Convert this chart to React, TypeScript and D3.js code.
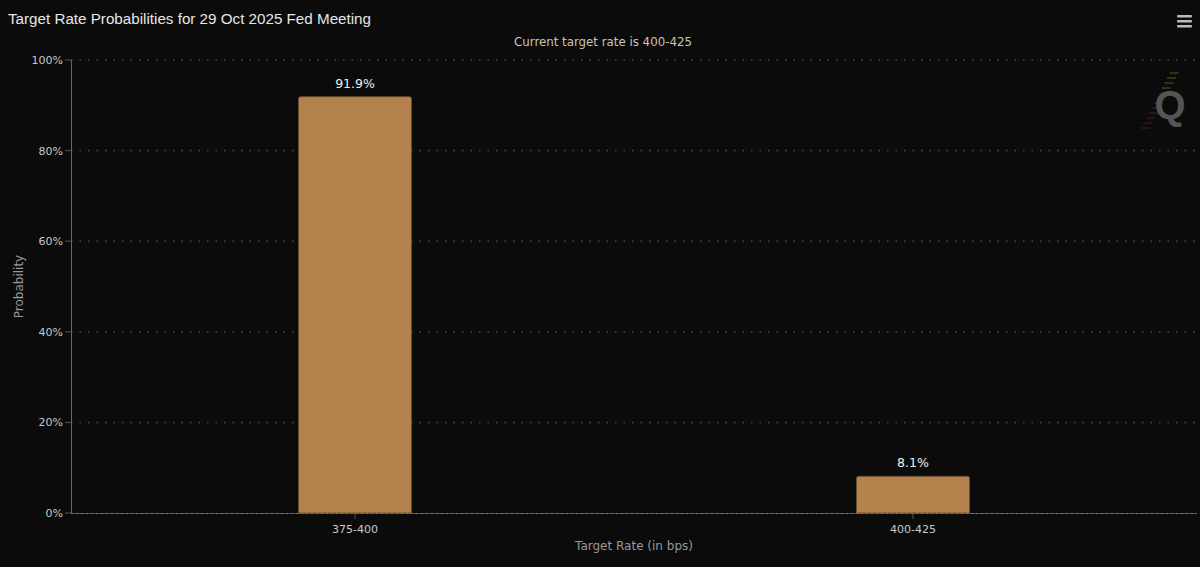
import React from "react";
import * as d3 from "d3";

const categories = ["375-400", "400-425"];
const probabilities = [91.9, 8.1];
const yTicks = [0, 20, 40, 60, 80, 100];

const W = 1200;
const H = 567;
const left = 76;
const right = 1192;
const top = 60;
const bottom = 513;

export default function App() {
  const x = d3.scaleBand<string>().domain(categories).range([left, right]).paddingInner(0).paddingOuter(0);
  const y = d3.scaleLinear().domain([0, 100]).range([bottom, top]);
  const barW = 113;
  const font = "'DejaVu Sans', Verdana, sans-serif";
  return (
    <svg width={W} height={H} style={{ position: "absolute", left: 0, top: 0, background: "#0b0b0b" }}>
      <rect x={0} y={0} width={W} height={H} fill="#0b0b0b" />
      <text x={8} y={24} fill="#e6e6e6" fontSize={15.2} fontFamily="'Liberation Sans', Arial, sans-serif">
        Target Rate Probabilities for 29 Oct 2025 Fed Meeting
      </text>
      <text x={603} y={46} fill="#cfc3ad" fontSize={11.8} textAnchor="middle" fontFamily={font}>
        Current target rate is 400-425
      </text>
      {/* menu icon */}
      {[0, 1, 2].map((i) => (
        <rect key={i} x={1177} y={15 + i * 5} width={15} height={2.5} fill="#bbbbbb" rx={1} />
      ))}
      {/* watermark */}
      {d3.range(12).map((i) => (
        <line key={i} x1={1141 + i * 2.6} y1={128 - i * 5} x2={1150 + i * 2.6} y2={128 - i * 5} stroke={i > 7 ? "#5a4a1c" : "#3e1c12"} strokeWidth={1.2} />
      ))}
      <text x={1170} y={119} fill="#555555" fontSize={40} fontWeight="bold" textAnchor="middle" fontFamily="'Liberation Sans', Arial, sans-serif">
        Q
      </text>
      {/* grid */}
      {yTicks.filter((t) => t > 0).map((t) => (
        <line key={t} x1={71} x2={W - 4} y1={y(t)} y2={y(t)} stroke="#4a4a4a" strokeWidth={1.5} strokeDasharray="1.5,7" />
      ))}
      {/* y axis */}
      <line x1={71.5} x2={71.5} y1={top} y2={bottom} stroke="#666" strokeWidth={1} />
      {yTicks.map((t) => (
        <g key={t}>
          <line x1={65} x2={71} y1={y(t)} y2={y(t)} stroke="#555" />
          <text x={63} y={y(t) + 4} fill="#c8c8c8" fontSize={11} textAnchor="end" fontFamily={font}>
            {t}%
          </text>
        </g>
      ))}
      <text transform={`translate(23,${(top + bottom) / 2}) rotate(-90)`} fill="#999" fontSize={12} textAnchor="middle" fontFamily={font}>
        Probability
      </text>
      {/* bars */}
      {categories.map((c, i) => {
        const cx = (x(c) as number) + x.bandwidth() / 2;
        const yt = y(probabilities[i]);
        return (
          <g key={c}>
            <path
              d={`M${cx - barW / 2},${bottom} V${yt + 2} Q${cx - barW / 2},${yt} ${cx - barW / 2 + 2},${yt} H${cx + barW / 2 - 2} Q${cx + barW / 2},${yt} ${cx + barW / 2},${yt + 2} V${bottom} Z`}
              fill="#b3824d"
              stroke="#6b4d2c"
              strokeWidth={0.8}
            />
            <text x={cx} y={yt - 9} fill="#f0f0f0" fontSize={12.5} textAnchor="middle" fontFamily={font}>
              {probabilities[i]}%
            </text>
            <line x1={cx} x2={cx} y1={bottom} y2={bottom + 6} stroke="#555" />
            <text x={cx} y={bottom + 20} fill="#c8c8c8" fontSize={11} textAnchor="middle" fontFamily={font}>
              {c}
            </text>
          </g>
        );
      })}
      {/* x axis */}
      <line x1={71} x2={W - 3} y1={bottom + 0.5} y2={bottom + 0.5} stroke="#555" strokeWidth={1} />
      <line x1={71} x2={W - 3} y1={bottom + 0.5} y2={bottom + 0.5} stroke="#777" strokeWidth={1} strokeDasharray="2,3" />
      <text x={634} y={550} fill="#999" fontSize={12} textAnchor="middle" fontFamily={font}>
        Target Rate (in bps)
      </text>
    </svg>
  );
}
